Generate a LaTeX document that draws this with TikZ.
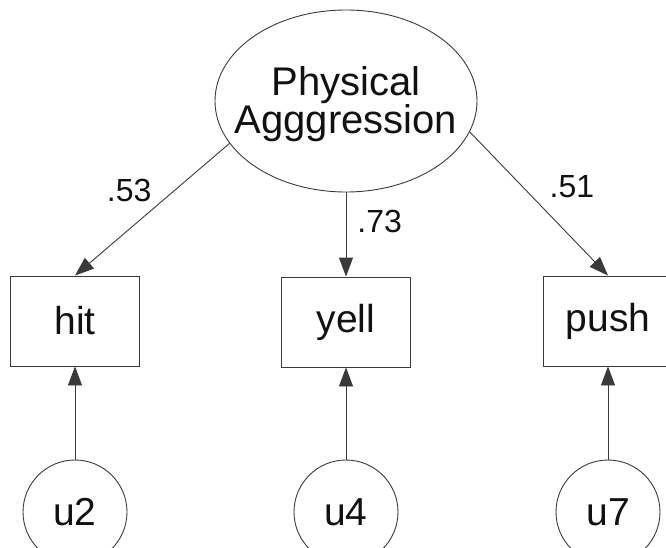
\documentclass[tikz,border=0pt]{standalone}
\usepackage{fontspec}
\setmainfont{Liberation Sans}
\usepackage{tikz}
\usetikzlibrary{positioning,arrows.meta,shapes.geometric}
\definecolor{semline}{HTML}{3A3A3A}
\definecolor{semtext}{HTML}{111111}
\tikzset{semlatent/.style={ellipse, draw=semline, line width=0.9pt, minimum width=262pt, minimum height=182pt, inner sep=0pt}}
\tikzset{semname/.style={align=center, text=semtext, inner sep=0pt, font=\fontsize{40}{38}\selectfont}}
\tikzset{semobs/.style={rectangle, draw=semline, line width=0.9pt, minimum width=129pt, minimum height=90pt, inner sep=0pt, text=semtext, font=\fontsize{39}{40}\selectfont}}
\tikzset{semerr/.style={circle, draw=semline, line width=0.9pt, minimum size=104pt, inner sep=0pt, text=semtext, font=\fontsize{39}{40}\selectfont}}
\tikzset{sempath/.style={-{Triangle[length=19pt, width=14pt]}, draw=semline, line width=0.9pt}}
\tikzset{semlabel/.style={text=semtext, inner sep=1pt, font=\fontsize{32}{32}\selectfont}}

\begin{document}
\begin{tikzpicture}[x=1pt, y=-1pt]
  \useasboundingbox (0,0) rectangle (666,548);

  \node[semlatent] (phys) at (346,101) {};
  \node[semname] (physname) at (346,104) {Physical\\Agggression};

  \node[semobs] (hit) at (75,321) {hit};
  \node[semobs] (yell) at (346,322) {yell};
  \node[semobs] (push) at (608,321) {push};

  \node[semerr] (u2) at (75,512) {u2};
  \node[semerr] (u4) at (346,512) {u4};
  \node[semerr] (u7) at (608,512) {u7};

  \draw[sempath] (phys.200) -- (hit.north) node[semlabel, pos=0.36, left=21pt] (l53) {.53};
  \draw[sempath] (phys.south) -- (yell.north) node[semlabel, pos=0.35, right=10pt] (l73) {.73};
  \draw[sempath] (phys.-14.5) -- (push.north) node[semlabel, pos=0.38, right=26pt] (l51) {.51};

  \draw[sempath] (u2) -- (hit);
  \draw[sempath] (u4) -- (yell);
  \draw[sempath] (u7) -- (push);
\end{tikzpicture}
\end{document}
